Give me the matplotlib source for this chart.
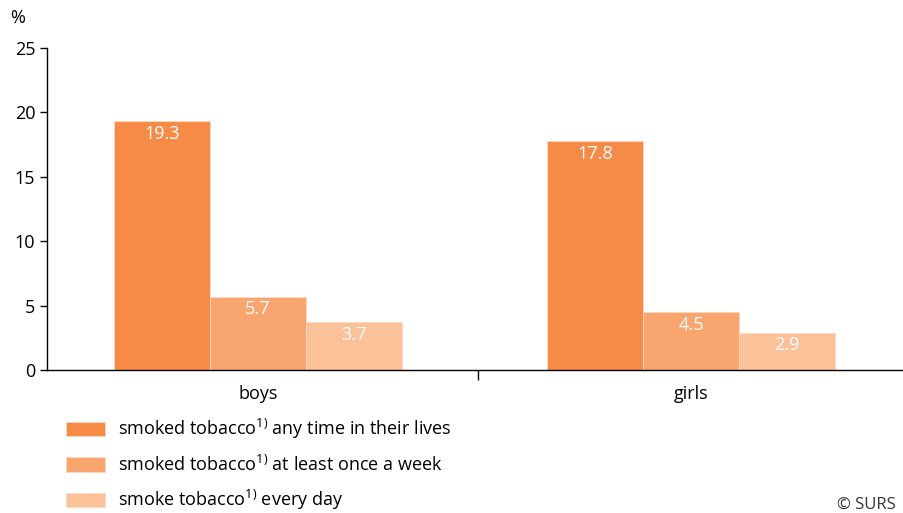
import numpy as np
import matplotlib
matplotlib.use("Agg")
import matplotlib.pyplot as plt

plt.rcParams['font.family'] = ['Open Sans', 'DejaVu Sans']
plt.rcParams['mathtext.default'] = 'regular'

# data
groups = ['boys', 'girls']
series = ['smoked tobacco$^{1)}$ any time in their lives',
          'smoked tobacco$^{1)}$ at least once a week',
          'smoke tobacco$^{1)}$ every day']
values = [[19.3, 17.8],
          [5.7, 4.5],
          [3.7, 2.9]]
colors = ['#F68B48', '#F8A570', '#FBC29A']

fig = plt.figure(figsize=(9.04, 5.13), dpi=100)
ax = fig.add_axes([0.052, 0.2788, 0.948, 0.6277])

x = np.arange(len(groups))
w = 0.222
for i, (vals, col, lab) in enumerate(zip(values, colors, series)):
    pos = x + (i - 1) * w
    ax.bar(pos, vals, width=w, color=col, edgecolor='#FDD9C0',
           linewidth=0.6, label=lab, zorder=2)
    for xb, v in zip(pos, vals):
        ax.text(xb, v - 0.3, f'{v:.1f}', ha='center', va='top',
                color='white', fontsize=13)

ax.set_xlim(-0.487, 1.492)
ax.set_ylim(0, 25)
ax.set_yticks([0, 5, 10, 15, 20, 25])
ax.tick_params(axis='y', labelsize=13, length=5, width=1, colors='black')
ax.set_xticks([0.508])
ax.set_xticklabels([''])
ax.tick_params(axis='x', length=7, width=1)
for xi, g in zip(x, groups):
    ax.text(xi, -1.2, g, ha='center', va='top', fontsize=13)

for s in ['top', 'right']:
    ax.spines[s].set_visible(False)
ax.spines['left'].set_linewidth(1)
ax.spines['bottom'].set_linewidth(1)

fig.text(0.011, 0.964, '%', fontsize=13, va='center')

fig.legend(loc='upper left', bbox_to_anchor=(0.0725, 0.187), frameon=False,
           fontsize=13, handlelength=2.2, handleheight=0.85,
           labelspacing=0.74, handletextpad=0.7, borderaxespad=0,
           borderpad=0)

fig.text(0.926, 0.008, '© SURS', fontsize=12, color='#333333')

fig.savefig('out.png', dpi=100)
